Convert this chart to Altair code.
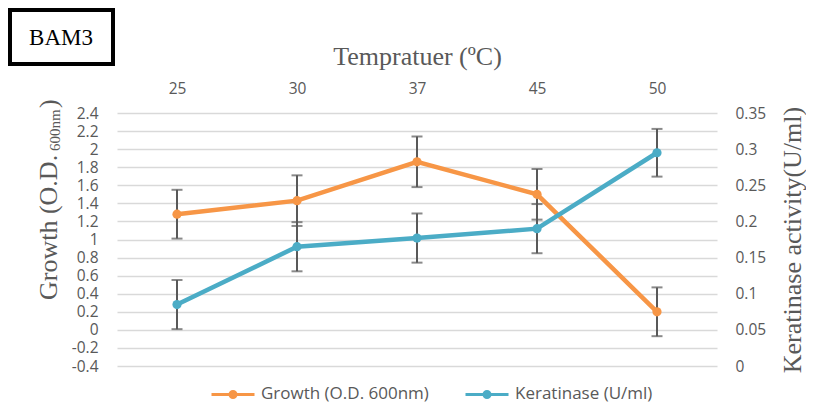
import altair as alt
import pandas as pd

# ---- data ----
temps = ["25", "30", "37", "45", "50"]
growth = [1.28, 1.43, 1.86, 1.50, 0.20]
growth_err = [0.27, 0.28, 0.28, 0.28, 0.27]
keratinase = [0.085, 0.165, 0.177, 0.190, 0.295]
keratinase_err = [0.034, 0.034, 0.034, 0.034, 0.033]
series_names = ["Growth (O.D. 600nm)", "Keratinase (U/ml)"]
series_colors = ["#F79646", "#4BACC6"]
left_ticks = [-0.4, -0.2, 0, 0.2, 0.4, 0.6, 0.8, 1, 1.2, 1.4, 1.6, 1.8, 2, 2.2, 2.4]
right_ticks = [0, 0.05, 0.1, 0.15, 0.2, 0.25, 0.3, 0.35]

TXT = "#595959"
SANS = "Open Sans"
SERIF = "Liberation Serif"

g_df = pd.DataFrame({
    "temp": temps,
    "value": growth,
    "lo": [v - e for v, e in zip(growth, growth_err)],
    "hi": [v + e for v, e in zip(growth, growth_err)],
    "series": series_names[0],
})
k_df = pd.DataFrame({
    "temp": temps,
    "value": keratinase,
    "lo": [v - e for v, e in zip(keratinase, keratinase_err)],
    "hi": [v + e for v, e in zip(keratinase, keratinase_err)],
    "series": series_names[1],
})

x_enc = alt.X(
    "temp:N", sort=temps,
    scale=alt.Scale(type="point", padding=0.5),
    axis=alt.Axis(
        orient="top", title="Tempratuer (ºC)", domain=False, ticks=False, tickSize=0,
        labelAngle=0, labelFont=SANS, labelFontSize=15.5, labelColor=TXT, labelPadding=17,
        titleFont=SERIF, titleFontSize=26, titleFontWeight="normal", titleColor=TXT,
        titlePadding=12, grid=False,
    ),
)

legend_symbol = ("M-1,0L1,0"
                 "M0.14,0A0.14,0.14,0,1,1,-0.14,0A0.14,0.14,0,1,1,0.14,0"
                 "M0.07,0A0.07,0.07,0,1,1,-0.07,0A0.07,0.07,0,1,1,0.07,0")

color_enc = alt.Color(
    "series:N",
    scale=alt.Scale(domain=series_names, range=series_colors),
    legend=alt.Legend(
        orient="none", legendX=93, legendY=258, direction="horizontal", title=None,
        symbolType=legend_symbol, symbolSize=1849, symbolStrokeWidth=3,
        labelFont=SANS, labelFontSize=17, labelColor=TXT, labelOffset=5, labelLimit=400,
        columnPadding=30, padding=0,
    ),
)

left_axis = alt.Axis(
    orient="left", values=left_ticks, title=None, domain=False, ticks=False, tickSize=0,
    grid=True, gridColor="#D9D9D9", gridWidth=1.5,
    labelFont=SANS, labelFontSize=15.5, labelColor=TXT, labelPadding=19,
    labelExpr="'' + datum.value",
)
right_axis = alt.Axis(
    orient="right", values=right_ticks, title="Keratinase activity(U/ml)",
    domain=False, ticks=False, tickSize=0, grid=False,
    labelFont=SANS, labelFontSize=15.5, labelColor=TXT, labelPadding=18,
    labelExpr="'' + datum.value",
    titleFont=SERIF, titleFontSize=26, titleFontWeight="normal", titleColor=TXT,
    titleAngle=270, titleBaseline="top", titlePadding=14,
)

left_scale = alt.Scale(domain=[-0.4, 2.4], nice=False, zero=False)
right_scale = alt.Scale(domain=[0, 0.35], nice=False, zero=False)


def series_layer(df, scale, axis):
    base = alt.Chart(df)
    line = base.mark_line(strokeWidth=4.5).encode(
        x=x_enc, y=alt.Y("value:Q", scale=scale, axis=axis), color=color_enc)
    rule = base.mark_rule(color="#595959", strokeWidth=2).encode(
        x=x_enc, y=alt.Y("lo:Q", scale=scale, axis=axis), y2="hi:Q")
    tick_lo = base.mark_tick(color="#595959", thickness=2, size=11).encode(
        x=x_enc, y=alt.Y("lo:Q", scale=scale, axis=axis))
    tick_hi = base.mark_tick(color="#595959", thickness=2, size=11).encode(
        x=x_enc, y=alt.Y("hi:Q", scale=scale, axis=axis))
    pts = base.mark_point(filled=True, size=85, opacity=1).encode(
        x=x_enc, y=alt.Y("value:Q", scale=scale, axis=axis), color=color_enc)
    return alt.layer(line, rule, tick_lo, tick_hi, pts)


growth_layer = series_layer(g_df, left_scale, left_axis)
ker_layer = series_layer(k_df, right_scale, right_axis)

one = pd.DataFrame({"a": [0]})
box = alt.Chart(one).mark_rect(fill="white", stroke="black", strokeWidth=4).encode(
    x=alt.value(-107), x2=alt.value(-4), y=alt.value(-103), y2=alt.value(-49))
box_text = alt.Chart(one).mark_text(
    text="BAM3", font=SERIF, fontSize=23, color="black", align="center", baseline="middle"
).encode(x=alt.value(-56), y=alt.value(-75))

ytitle_main = alt.Chart(one).mark_text(
    text="Growth (O.D.", font=SERIF, fontSize=26, color=TXT, angle=270,
    align="left", baseline="alphabetic"
).encode(x=alt.value(-60), y=alt.value(187))
ytitle_sub = alt.Chart(one).mark_text(
    text="600nm", font=SERIF, fontSize=15, color=TXT, angle=270,
    align="left", baseline="alphabetic"
).encode(x=alt.value(-57), y=alt.value(38))
ytitle_end = alt.Chart(one).mark_text(
    text=")", font=SERIF, fontSize=26, color=TXT, angle=270,
    align="left", baseline="alphabetic"
).encode(x=alt.value(-60), y=alt.value(-5))

deco = alt.layer(box, box_text, ytitle_main, ytitle_sub, ytitle_end)

chart = alt.layer(growth_layer, ker_layer, deco).resolve_scale(
    y="independent"
).properties(
    width=600, height=253, padding=0, background="white"
).configure_view(stroke=None)

chart.save("out.html", embed_options={"renderer": "svg", "actions": False})
